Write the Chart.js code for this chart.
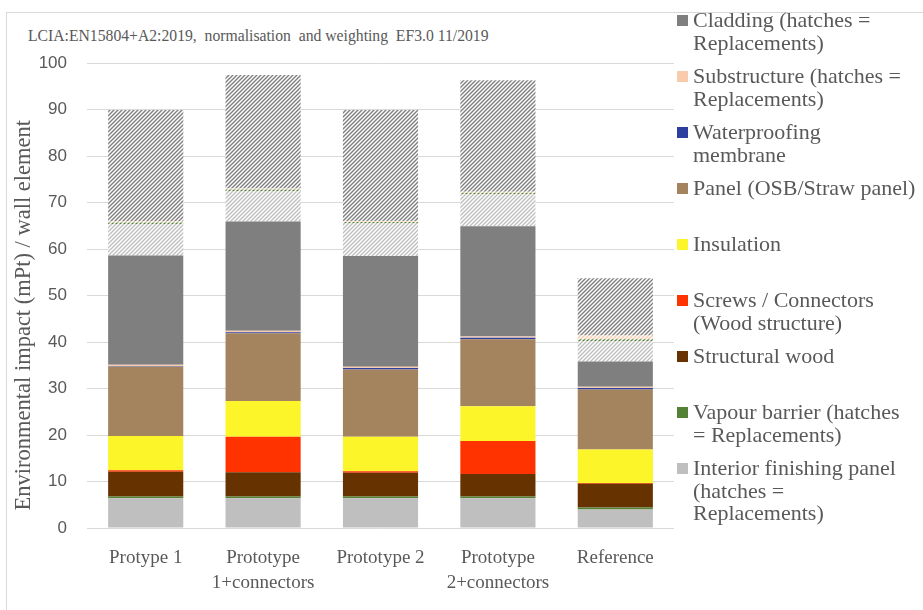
<!DOCTYPE html>
<html>
<head>
<meta charset="utf-8">
<script src="https://cdn.jsdelivr.net/npm/chart.js@4"></script>
<style>
  body { margin: 0; background: #fff; }
  #wrap { position: relative; width: 923px; height: 610px; overflow: hidden; }
  #frame { position: absolute; left: 6px; top: 12px; width: 940px; height: 620px;
           border-top: 1px solid #d9d9d9; border-left: 1px solid #d9d9d9; }
  #title { position: absolute; left: 28px; top: 27px; font: 15.7px 'Liberation Serif', serif;
           color: #595959; white-space: pre; }
  #legend { position: absolute; left: 677px; top: 0; font: 22px 'Liberation Serif', serif;
            color: #595959; line-height: 22.5px; }
  .item { position: absolute; left: 0; white-space: nowrap; }
  .box { position: absolute; left: 0; top: 6px; width: 11px; height: 11px; }
  .txt { position: absolute; left: 16px; top: 0; }
  canvas { position: absolute; left: 0; top: 0; }
</style>
</head>
<body>
<div id="wrap">
  <div id="frame"></div>
  <div id="title">LCIA:EN15804+A2:2019,  normalisation  and weighting  EF3.0 11/2019</div>
  <canvas id="chart"></canvas>
  <div id="legend"></div>
</div>
<script>
// categories (x axis)
const categories = ['Protype 1', ['Prototype', '1+connectors'], 'Prototype 2', ['Prototype', '2+connectors'], 'Reference'];

// base layers, bottom to top (mPt)
const interior      = [6.4, 6.4, 6.4, 6.4, 4.0];
const vapour        = [0.4, 0.4, 0.4, 0.4, 0.4];
const structWood    = [5.3, 5.2, 5.1, 4.8, 5.1];
const screws        = [0.3, 7.6, 0.3, 7.1, 0.2];
const insulation    = [7.4, 7.7, 7.4, 7.5, 7.2];
const panel         = [14.9, 14.6, 14.5, 14.4, 12.9];
const waterproofing = [0.1, 0.2, 0.3, 0.3, 0.3];
const substructure  = [0.3, 0.3, 0.3, 0.3, 0.3];
const cladding      = [23.5, 23.5, 23.8, 23.7, 5.4];

// replacements (hatched)
const interiorRepl     = [6.8, 6.6, 7.0, 6.9, 4.4];
const vapourRepl       = [0.3, 0.3, 0.3, 0.3, 0.4];
const substructureRepl = [0.2, 0.2, 0.2, 0.2, 0.8];
const claddingRepl     = [24.0, 24.4, 23.9, 24.0, 12.3];

const yTicks = [0, 10, 20, 30, 40, 50, 60, 70, 80, 90, 100];

// legend text, top to bottom
const legendLabels = [
  ['Cladding (hatches =', 'Replacements)'],
  ['Substructure (hatches =', 'Replacements)'],
  ['Waterproofing', 'membrane'],
  ['Panel (OSB/Straw panel)'],
  ['Insulation'],
  ['Screws / Connectors', '(Wood structure)'],
  ['Structural wood'],
  ['Vapour barrier (hatches', '= Replacements)'],
  ['Interior finishing panel', '(hatches =', 'Replacements)']
];

const colors = {
  interior: '#bfbfbf', vapour: '#548235', wood: '#663300', screws: '#ff3300',
  insulation: '#fbf52a', panel: '#a3845f', water: '#2f3f9f', sub: '#f8cbad', cladding: '#7f7f7f'
};

function hatch(color) {
  const s = 4;
  const c = document.createElement('canvas');
  c.width = s; c.height = s;
  const g = c.getContext('2d');
  g.fillStyle = '#fff';
  g.fillRect(0, 0, s, s);
  g.strokeStyle = color;
  g.lineWidth = 1.4;
  g.beginPath();
  g.moveTo(0, s); g.lineTo(s, 0);
  g.moveTo(-1, 1); g.lineTo(1, -1);
  g.moveTo(s - 1, s + 1); g.lineTo(s + 1, s - 1);
  g.stroke();
  return g.createPattern(c, 'repeat');
}

const ds = (label, data, bg) => ({ label, data, backgroundColor: bg, borderWidth: 0, stack: 's' });

const datasets = [
  ds('Interior finishing panel', interior, colors.interior),
  ds('Vapour barrier', vapour, colors.vapour),
  ds('Structural wood', structWood, colors.wood),
  ds('Screws / Connectors', screws, colors.screws),
  ds('Insulation', insulation, colors.insulation),
  ds('Panel', panel, colors.panel),
  ds('Waterproofing membrane', waterproofing, colors.water),
  ds('Substructure', substructure, colors.sub),
  ds('Cladding', cladding, colors.cladding),
  ds('Interior finishing panel (replacements)', interiorRepl, hatch(colors.interior)),
  ds('Vapour barrier (replacements)', vapourRepl, hatch(colors.vapour)),
  ds('Substructure (replacements)', substructureRepl, hatch(colors.sub)),
  ds('Cladding (replacements)', claddingRepl, hatch(colors.cladding))
];

const legendColors = [colors.cladding, colors.sub, colors.water, colors.panel, colors.insulation,
                      colors.screws, colors.wood, colors.vapour, colors.interior];

// html legend
const legend = document.getElementById('legend');
legendLabels.forEach((lines, i) => {
  const item = document.createElement('div');
  item.className = 'item';
  item.style.top = (9 + i * 56) + 'px';
  item.innerHTML = `<div class="box" style="background:${legendColors[i]}"></div>` +
    `<div class="txt">${lines.join('<br>')}</div>`;
  legend.appendChild(item);
});

const canvas = document.getElementById('chart');
canvas.style.width = '923px';
canvas.style.height = '610px';

new Chart(canvas, {
  type: 'bar',
  data: { labels: categories, datasets },
  options: {
    responsive: false,
    animation: false,
    devicePixelRatio: 1,
    layout: { padding: { left: 0, right: 249, top: 63, bottom: 22 } },
    plugins: { legend: { display: false }, tooltip: { enabled: false } },
    datasets: { bar: { categoryPercentage: 1, barPercentage: 0.64 } },
    scales: {
      x: {
        stacked: true,
        grid: { display: false },
        border: { display: false },
        afterFit: s => { s.height = 60; },
        ticks: { color: '#595959', padding: 10, maxRotation: 0,
                 font: { family: 'Liberation Serif', size: 19, lineHeight: 1.3 } }
      },
      y: {
        stacked: true,
        min: 0, max: 100,
        afterFit: s => { s.width = 87; },
        afterBuildTicks: s => { s.ticks = yTicks.map(v => ({ value: v })); },
        grid: { color: '#d9d9d9', drawTicks: false },
        border: { display: false },
        ticks: { color: '#595959', padding: 20,
                 font: { family: 'Liberation Sans', size: 17 } },
        title: {
          display: true,
          text: 'Environmental impact (mPt) / wall element' + '\u00a0'.repeat(7),
          color: '#595959',
          padding: { top: 11, bottom: 0 },
          font: { family: 'Liberation Serif', size: 22.5 }
        }
      }
    }
  }
});
</script>
</body>
</html>
